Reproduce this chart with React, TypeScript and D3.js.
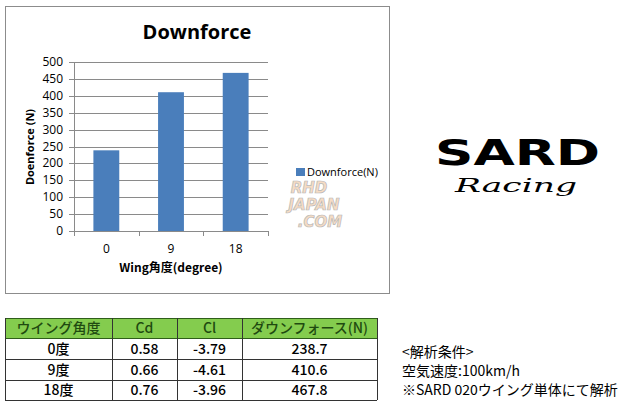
import React from "react";
import * as d3 from "d3";

const categories = ["0", "9", "18"];
const downforce = [238.7, 410.6, 467.8];
const cdValues = [0.58, 0.66, 0.76];
const clValues = [-3.79, -4.61, -3.96];
const rowLabels = ["0度", "9度", "18度"];
const tableHeaders = ["ウイング角度", "Cd", "Cl", "ダウンフォース(N)"];
const notes = ["<解析条件>", "空気速度:100km/h", "※SARD 020ウイング単体にて解析"];
const chartTitle = "Downforce";
const yTitle = "Doenforce (N)";
const xTitle = "Wing角度(degree)";
const legendLabel = "Downforce(N)";

const W = 628, H = 402;
const plot = { left: 74, right: 268, top: 62, bottom: 231 };
const colEdges = [5, 112, 177, 242, 377];
const rowEdges = [318, 338, 359, 380, 400];

const font = "'Open Sans', 'Noto Sans', sans-serif";
const cjk = "'Noto Sans CJK JP', 'Noto Sans', sans-serif";

export default function App() {
  const x = d3.scaleBand<string>().domain(categories).range([plot.left, plot.right]).paddingInner(0.6).paddingOuter(0.3);
  const y = d3.scaleLinear().domain([0, 500]).range([plot.bottom, plot.top]);
  const yTicks = y.ticks(10);
  const step = x.step();
  const boundaries = d3.range(categories.length + 1).map((i) => plot.left + i * step);
  const col = (i: number) => (colEdges[i] + colEdges[i + 1]) / 2;
  const row = (i: number) => (rowEdges[i] + rowEdges[i + 1]) / 2;
  const tableRows = rowLabels.map((r, i) => [r, cdValues[i].toFixed(2), clValues[i].toFixed(2), downforce[i].toFixed(1)]);

  return (
    <div style={{ position: "fixed", left: 0, top: 0 }}>
      <svg width={W} height={H} style={{ display: "block", background: "#fff" }}>
        <rect x={0} y={0} width={W} height={H} fill="#fff" />
        {/* chart frame */}
        <rect x={5.5} y={6.5} width={384} height={287} fill="#fff" stroke="#8c8c8c" strokeWidth={1} />
        <text x={197} y={39} textAnchor="middle" fontFamily={font} fontWeight={700} fontSize={20} fill="#000">{chartTitle}</text>
        {/* gridlines */}
        {yTicks.map((t) => (
          <g key={t}>
            <line x1={plot.left - 5} x2={plot.right} y1={Math.round(y(t)) + 0.5} y2={Math.round(y(t)) + 0.5} stroke="#8a8a8a" strokeWidth={1} />
            <text x={63} y={y(t) + 4} textAnchor="end" fontFamily={font} fontSize={12} fill="#000">{t}</text>
          </g>
        ))}
        <line x1={plot.left + 0.5} x2={plot.left + 0.5} y1={plot.top} y2={plot.bottom} stroke="#8a8a8a" />
        {boundaries.map((b, i) => (
          <line key={i} x1={Math.round(b) + 0.5} x2={Math.round(b) + 0.5} y1={plot.bottom} y2={plot.bottom + 5} stroke="#8a8a8a" />
        ))}
        {categories.map((c, i) => (
          <g key={c}>
            <rect x={x(c)!} y={y(downforce[i])} width={x.bandwidth()} height={plot.bottom - y(downforce[i])} fill="#4a7ebb" />
            <text x={x(c)! + x.bandwidth() / 2} y={253} textAnchor="middle" fontFamily={font} fontSize={12} fill="#000">{c}</text>
          </g>
        ))}
        <text x={171} y={272} textAnchor="middle" fontFamily={cjk} fontWeight={700} fontSize={12} fill="#000">{xTitle}</text>
        <text transform="translate(34,147) rotate(-90)" textAnchor="middle" fontFamily={font} fontWeight={700} fontSize={11} fill="#000">{yTitle}</text>
        {/* legend */}
        <rect x={296} y={168} width={9} height={8} fill="#4a7ebb" />
        <text x={307} y={176} fontFamily={font} fontSize={11} fill="#000">{legendLabel}</text>
        {/* watermark */}
        <g fontFamily="'DejaVu Sans', sans-serif" fontWeight={700} fontStyle="italic" fontSize={15} fill="#f6dcc4" stroke="#b8b8b8" strokeWidth={0.7} textAnchor="middle">
          <text x={309} y={193}>RHD</text>
          <text x={314} y={210}>JAPAN</text>
          <text x={320} y={227}>.COM</text>
        </g>
        {/* SARD logo */}
        <text x={435} y={165} textLength={165} lengthAdjust="spacingAndGlyphs" fontFamily="'DejaVu Sans', sans-serif" fontWeight={900} fontSize={36} fill="#000">SARD</text>
        <text x={455} y={192} textLength={122} lengthAdjust="spacingAndGlyphs" fontFamily="'DejaVu Serif', serif" fontStyle="italic" fontSize={18} fill="#000">Racing</text>
        {/* table */}
        <rect x={colEdges[0]} y={rowEdges[0]} width={colEdges[4] - colEdges[0]} height={rowEdges[1] - rowEdges[0]} fill="#84cc4e" />
        {rowEdges.map((r, i) => (
          <line key={"r" + i} x1={colEdges[0]} x2={colEdges[4]} y1={r + 0.5} y2={r + 0.5} stroke={i <= 1 ? "#2f5e1a" : "#333"} />
        ))}
        {colEdges.map((c, i) => (
          <line key={"c" + i} x1={c + 0.5} x2={c + 0.5} y1={rowEdges[0]} y2={rowEdges[4]} stroke="#333" />
        ))}
        {tableHeaders.map((h, i) => (
          <text key={h} x={col(i)} y={row(0) + 5} textAnchor="middle" fontFamily={cjk} fontWeight={500} fontSize={14} fill="#1f4a10">{h}</text>
        ))}
        {tableRows.map((r, ri) =>
          r.map((v, ci) => (
            <text key={ri + "-" + ci} x={col(ci)} y={row(ri + 1) + 5} textAnchor="middle" fontFamily={cjk} fontWeight={500} fontSize={14} fill="#000">{v}</text>
          ))
        )}
        {notes.map((n, i) => (
          <text key={n} x={402} y={357 + i * 19} fontFamily={cjk} fontSize={14} fill="#000">{n}</text>
        ))}
      </svg>
    </div>
  );
}
